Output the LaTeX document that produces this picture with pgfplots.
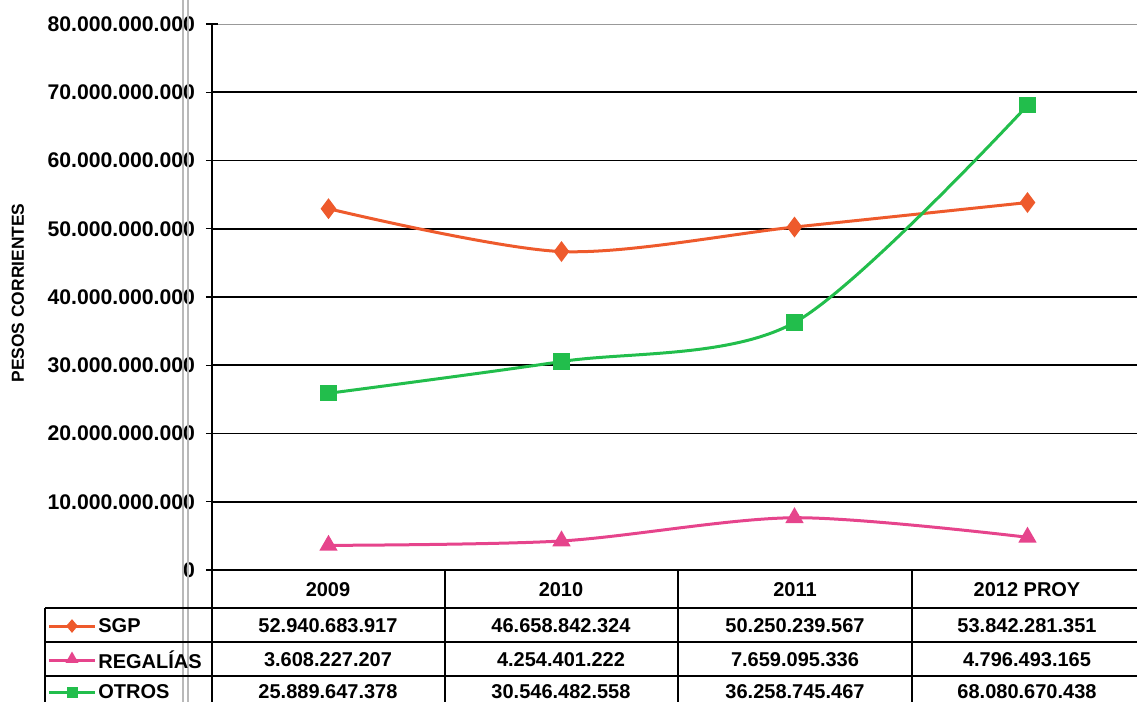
\documentclass[border=0pt]{standalone}
\usepackage{fontspec}
\setmainfont{Liberation Sans}
\usepackage{pgfplots}
\pgfplotsset{compat=1.18}
\usetikzlibrary{shapes.geometric}
\definecolor{sgp}{HTML}{EE5A2C}
\definecolor{reg}{HTML}{E6448C}
\definecolor{otr}{HTML}{22BE4C}
\newcommand{\tfont}{\fontsize{10}{12}\selectfont\bfseries}
\begin{document}
\begin{tikzpicture}
\begin{axis}[
  at={(106pt,-285pt)}, anchor=south west,
  width=462.5pt, height=273pt, scale only axis,
  xmin=-0.5, xmax=3.47,
  ymin=0, ymax=80000000000,
  ytick={0,10000000000,20000000000,30000000000,40000000000,50000000000,60000000000,70000000000},
  extra y ticks={80000000000},
  extra y tick style={grid style={gray!80, line width=0.4pt}},
  xtick=\empty,
  axis x line*=bottom, axis y line*=left,
  axis line style={black, line width=0.8pt},
  ymajorgrids, grid style={black, line width=0.8pt},
  tick align=center, major tick length=6pt,
  tick style={black, line width=0.6pt},
  scaled y ticks=false,
  /pgf/number format/.cd, fixed, precision=0, 1000 sep={.}, assume math mode=true,
  /pgfplots/.cd,
  yticklabel style={font=\fontsize{10.6}{12}\selectfont\bfseries, xshift=-2pt},
  clip=false,
]
\addplot[sgp, line width=1.5pt, smooth, tension=0.5, mark=diamond*, mark size=4pt]
  coordinates {(0,52940683917)(1,46658842324)(2,50250239567)(3,53842281351)};
\addplot[reg, line width=1.5pt, smooth, tension=0.5, mark=triangle*, mark size=3.8pt]
  coordinates {(0,3608227207)(1,4254401222)(2,7659095336)(3,4796493165)};
\addplot[otr, line width=1.5pt, smooth, tension=0.5, mark=square*, mark size=3.3pt]
  coordinates {(0,25889647378)(1,30546482558)(2,36258745467)(3,68080670438)};
\end{axis}
\begin{scope}[x=0.5pt, y=-0.5pt]
  % scan artefact
  \draw[gray!55, line width=0.6pt] (183,0) -- (183,702);
  \draw[gray!55, line width=0.6pt] (188,0) -- (188,702);
  % y label
  \node[rotate=90, font=\fontsize{8.7}{10}\selectfont\bfseries] at (18,293) {PESOS CORRIENTES};
  % data table grid
  \draw[black, line width=0.8pt] (45,608) -- (1137,608);
  \draw[black, line width=0.8pt] (45,642) -- (1137,642);
  \draw[black, line width=0.8pt] (45,676) -- (1137,676);
  \draw[black, line width=0.8pt] (45,608) -- (45,702);
  \foreach \xx in {212,445,678,912} \draw[black, line width=0.8pt] (\xx,570) -- (\xx,702);
  % header
  \foreach \xx/\lab in {328/2009, 561/2010, 795/2011, 1027/{2012 PROY}}
    \node[font=\tfont] at (\xx,590) {\lab};
  % legend keys
  \draw[sgp, line width=1.5pt] (49,626) -- (95,626);
  \node[fill=sgp, diamond, inner sep=0pt, minimum width=6pt, minimum height=7pt] at (72,626) {};
  \node[font=\tfont, anchor=west, inner sep=0pt] at (98,626) {SGP};
  \draw[reg, line width=1.5pt] (49,660) -- (95,660);
  \node[fill=reg, regular polygon, regular polygon sides=3, inner sep=0pt, minimum size=7.5pt] at (72,659) {};
  \node[font=\tfont, anchor=west, inner sep=0pt] at (98,660) {REGALÍAS};
  \draw[otr, line width=1.5pt] (49,692) -- (95,692);
  \fill[otr] (66.5,686.5) rectangle (77.5,697.5);
  \node[font=\tfont, anchor=west, inner sep=0pt] at (98,692) {OTROS};
  % values
  \foreach \xx/\v in {328/52.940.683.917, 561/46.658.842.324, 795/50.250.239.567, 1027/53.842.281.351}
    \node[font=\tfont] at (\xx,626) {\v};
  \foreach \xx/\v in {328/3.608.227.207, 561/4.254.401.222, 795/7.659.095.336, 1027/4.796.493.165}
    \node[font=\tfont] at (\xx,660) {\v};
  \foreach \xx/\v in {328/25.889.647.378, 561/30.546.482.558, 795/36.258.745.467, 1027/68.080.670.438}
    \node[font=\tfont] at (\xx,692) {\v};
\end{scope}
\pgfresetboundingbox
\useasboundingbox (0,0) rectangle (568.5pt,-351pt);
\end{tikzpicture}
\end{document}
